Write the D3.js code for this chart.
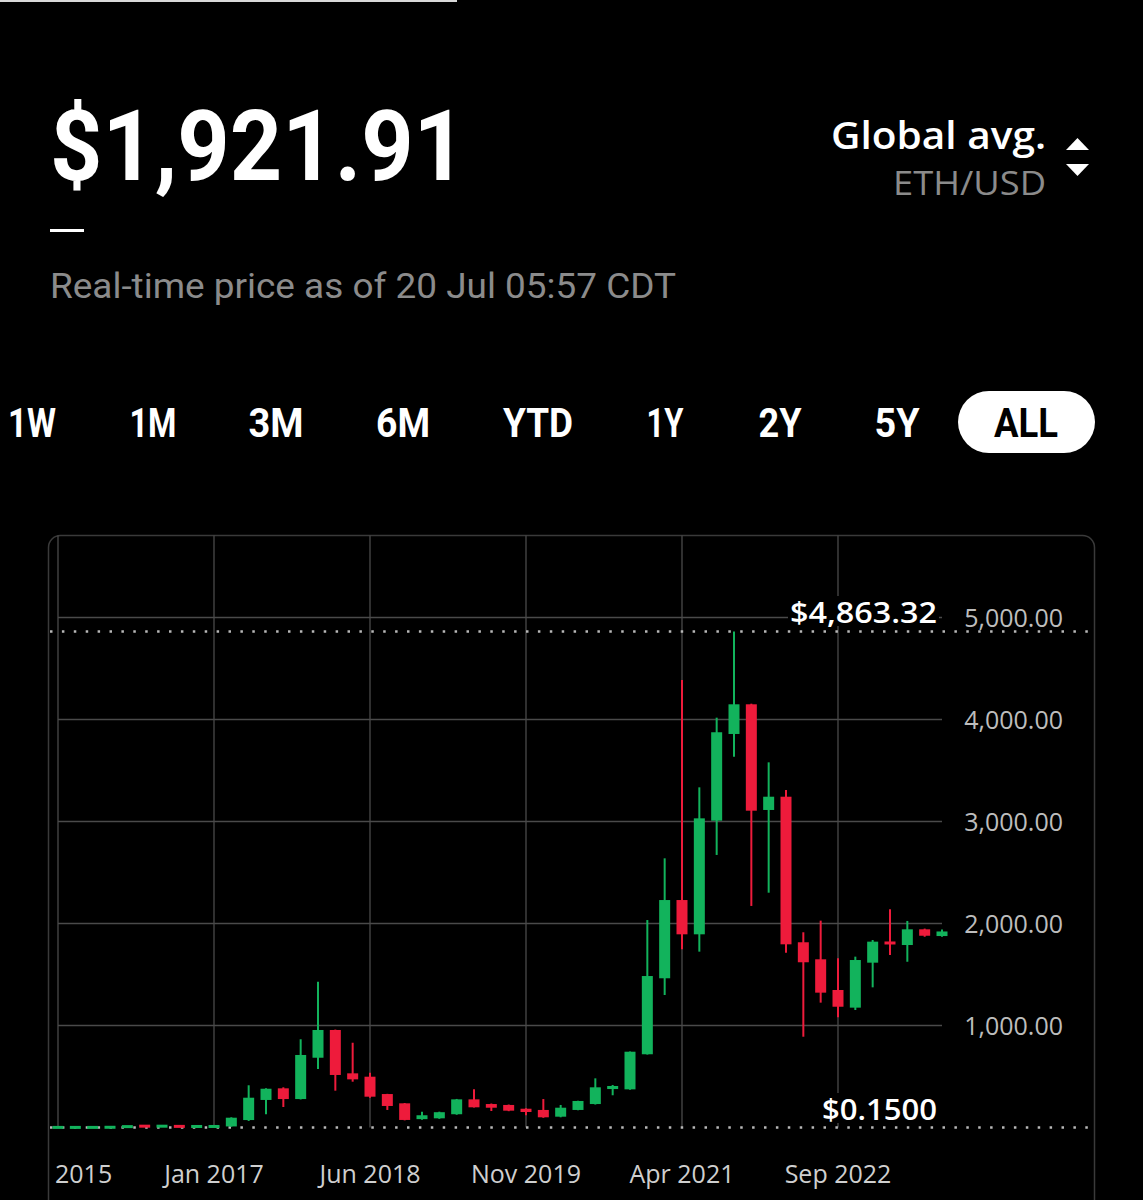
<!DOCTYPE html>
<html>
<head>
<meta charset="utf-8">
<script src="https://cdn.jsdelivr.net/npm/d3@7"></script>
<style>
  html, body { margin: 0; padding: 0; background: #000; }
  svg { display: block; }
</style>
</head>
<body>
<script>
// ---------------- DATA ----------------
const pair = "ETH/USD";
const source = "Global avg.";
const asOf = "Real-time price as of 20 Jul 05:57 CDT";
const ranges = ["1W", "1M", "3M", "6M", "YTD", "1Y", "2Y", "5Y", "ALL"];
const activeRange = "ALL";

const opens  = [0.8, 0.9, 0.9, 1.0, 3.2, 14, 12, 13.5, 8.5, 9.5, 10.5, 73, 270, 384, 279, 684, 956, 531, 498, 328, 237, 82, 90, 130, 276, 230, 221, 184, 172, 106, 172, 230, 377, 374, 718, 1463, 2230, 1894, 3008, 3858, 4149, 3113, 3243, 1816, 1649, 1348, 1175, 1616, 1822, 1789, 1943, 1877];
const highs  = [2.9, 1.3, 1.1, 3.6, 15.3, 21.5, 14.8, 14.5, 12.8, 12.0, 100, 414, 385, 394, 865, 1430, 960, 831, 537, 330, 240, 155, 155, 280, 374, 235, 225, 188, 279, 221, 262, 482, 417, 745, 2034, 2639, 4387, 3335, 4018, 4863.32, 4155, 3580, 3309, 1914, 2028, 1659, 1675, 1838, 2139, 2025, 1950, 1940];
const lows   = [0.4, 0.15, 0.8, 0.9, 3.0, 10.5, 10.0, 6.5, 7.0, 7.2, 8, 64, 129, 201, 275, 574, 361, 449, 292, 172, 70, 75, 85, 125, 195, 162, 160, 119, 95, 100, 170, 225, 316, 370, 715, 1299, 1747, 1724, 2672, 3635, 2172, 2302, 1714, 890, 1224, 1080, 1152, 1374, 1691, 1625, 1870, 1870];
const closes = [1.2, 1.0, 1.0, 3.2, 14, 12, 13.5, 8.5, 11.5, 10.5, 96, 292, 380, 279, 711, 956, 515, 472, 302, 211, 74, 120, 150, 276, 198, 194, 165, 152, 100, 194, 260, 394, 407, 743, 1485, 2230, 1894, 3031, 3875, 4149, 3106, 3243, 1796, 1620, 1322, 1184, 1642, 1822, 1796, 1943, 1880, 1921.91];

const yTickValues = [1000, 2000, 3000, 4000, 5000];
const xTickIndex  = [0, 9, 18, 27, 36, 45];
const xTickLabels = ["2015", "Jan 2017", "Jun 2018", "Nov 2019", "Apr 2021", "Sep 2022"];

// ---------------- LAYOUT ----------------
const W = 1143, H = 1200;
const GREEN = "#12b35c", RED = "#ee1b3b";
const svg = d3.select("body").append("svg").attr("width", W).attr("height", H);
svg.append("rect").attr("width", W).attr("height", H).attr("fill", "#000");

// top scroll indicator
svg.append("rect").attr("x", 0).attr("y", 0).attr("width", 457).attr("height", 2).attr("fill", "#d9d9d9");

// header
const lastClose = closes[closes.length - 1];
svg.append("text").attr("x", 50).attr("y", 180)
  .attr("font-family", "Roboto, 'Liberation Sans', sans-serif").attr("font-weight", 700)
  .attr("font-size", 98).attr("fill", "#fff")
  .attr("textLength", 416).attr("lengthAdjust", "spacingAndGlyphs")
  .text(d3.format("$,.2f")(lastClose));
svg.append("rect").attr("x", 50).attr("y", 229).attr("width", 34).attr("height", 3).attr("fill", "#fff");
svg.append("text").attr("x", 50).attr("y", 298)
  .attr("font-family", "Roboto, sans-serif").attr("font-size", 35).attr("fill", "#8b8b8b")
  .attr("textLength", 626).attr("lengthAdjust", "spacingAndGlyphs")
  .text(asOf);
svg.append("text").attr("x", 831).attr("y", 149)
  .attr("font-family", "'Open Sans', sans-serif").attr("font-weight", 600)
  .attr("font-size", 38).attr("fill", "#fff")
  .attr("textLength", 215).attr("lengthAdjust", "spacingAndGlyphs")
  .text(source);
svg.append("text").attr("x", 893).attr("y", 195)
  .attr("font-family", "'Open Sans', sans-serif").attr("font-size", 33).attr("fill", "#8b8b8b")
  .attr("textLength", 153).attr("lengthAdjust", "spacingAndGlyphs")
  .text(pair);
svg.append("path").attr("d", "M1066,150 L1077.5,138 L1089,150 Z").attr("fill", "#fff");
svg.append("path").attr("d", "M1066,164 L1077.5,176 L1089,164 Z").attr("fill", "#fff");

// range tabs
const tabCenters = [32, 153, 276, 403, 538, 665, 780, 897, 1026];
const tabWidths  = [48, 47, 55, 54, 70, 37, 43, 45, 64];
svg.append("rect").attr("x", 958).attr("y", 391).attr("width", 137).attr("height", 62)
  .attr("rx", 31).attr("fill", "#fff");
svg.selectAll("text.tab").data(ranges).join("text").attr("class", "tab")
  .attr("x", (d, i) => tabCenters[i] - tabWidths[i] / 2).attr("y", 437)
  .attr("font-family", "Roboto, sans-serif").attr("font-weight", 700).attr("font-size", 40)
  .attr("fill", d => d === activeRange ? "#000" : "#fff")
  .attr("textLength", (d, i) => tabWidths[i]).attr("lengthAdjust", "spacingAndGlyphs")
  .text(d => d);

// chart panel
svg.append("rect").attr("x", 48.5).attr("y", 535.5).attr("width", 1046).attr("height", 800)
  .attr("rx", 12).attr("fill", "none").attr("stroke", "#3a3a3a").attr("stroke-width", 1.5);

const x = d3.scalePoint().domain(d3.range(closes.length)).range([58, 942]);
const y = d3.scaleLinear().domain([0, 5000]).range([1127.5, 617.5]);

const grid = svg.append("g");
grid.selectAll("line.h").data(yTickValues).join("line").attr("class", "h")
  .attr("x1", x(0)).attr("x2", x(closes.length - 1))
  .attr("y1", d => y(d)).attr("y2", d => y(d))
  .attr("stroke", "#4a4a4a").attr("stroke-width", 1.3);
grid.selectAll("line.v").data(xTickIndex).join("line").attr("class", "v")
  .attr("x1", d => x(d)).attr("x2", d => x(d))
  .attr("y1", 535.5).attr("y2", y(0))
  .attr("stroke", "#4a4a4a").attr("stroke-width", 1.3);

// y-axis labels
svg.selectAll("text.ylab").data(yTickValues).join("text").attr("class", "ylab")
  .attr("x", 1063).attr("y", d => y(d)).attr("dy", "0.36em").attr("text-anchor", "end")
  .attr("font-family", "'Open Sans', sans-serif").attr("font-size", 25).attr("fill", "#bdbdbd")
  .text(d => d3.format(",.2f")(d));

// x-axis labels
svg.selectAll("text.xlab").data(xTickIndex).join("text").attr("class", "xlab")
  .attr("x", (d, i) => i === 0 ? x(d) - 3 : x(d)).attr("y", 1183)
  .attr("text-anchor", (d, i) => i === 0 ? "start" : "middle")
  .attr("font-family", "'Open Sans', sans-serif").attr("font-size", 25).attr("fill", "#cfcfcf")
  .text((d, i) => xTickLabels[i]);

// min / max dotted lines
const maxV = d3.max(highs), minV = d3.min(lows);
[maxV, minV].forEach(v => {
  svg.append("line").attr("x1", 50).attr("x2", 1092)
    .attr("y1", y(v)).attr("y2", y(v))
    .attr("stroke", "#b8b8b8").attr("stroke-width", 2.5).attr("stroke-dasharray", "2.5 9.4");
});

// candles
const candles = svg.append("g");
const idx = d3.range(closes.length);
candles.selectAll("line.wick").data(idx).join("line").attr("class", "wick")
  .attr("x1", i => x(i)).attr("x2", i => x(i))
  .attr("y1", i => y(highs[i])).attr("y2", i => y(lows[i]))
  .attr("stroke", i => closes[i] >= opens[i] ? GREEN : RED).attr("stroke-width", 2);
candles.selectAll("rect.body").data(idx).join("rect").attr("class", "body")
  .attr("x", i => x(i) - 5.5).attr("width", 11)
  .attr("y", i => {
    const t = y(Math.max(opens[i], closes[i])), b = y(Math.min(opens[i], closes[i]));
    return (b - t) < 3 ? (t + b) / 2 - 1.5 : t;
  })
  .attr("height", i => Math.max(3, Math.abs(y(opens[i]) - y(closes[i]))))
  .attr("fill", i => closes[i] >= opens[i] ? GREEN : RED);

// min / max annotations with black backgrounds
function annot(txt, baseY, width) {
  const g = svg.append("g");
  const bg = g.append("rect").attr("fill", "#000");
  const t = g.append("text").attr("x", 937 - width).attr("y", baseY)
    .attr("font-family", "'Open Sans', sans-serif").attr("font-weight", 600)
    .attr("font-size", 29).attr("fill", "#fff")
    .attr("textLength", width).attr("lengthAdjust", "spacingAndGlyphs").text(txt);
  bg.attr("x", 937 - width - 2).attr("y", baseY - 27).attr("width", width + 4).attr("height", 30);
}
annot(d3.format("$,.2f")(maxV), 623, 147);
annot(d3.format("$,.4f")(minV), 1120, 115);
</script>
</body>
</html>
